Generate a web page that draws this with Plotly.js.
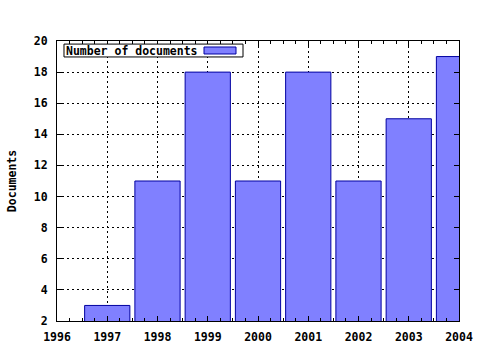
<!DOCTYPE html>
<html>
<head>
<meta charset="utf-8">
<script src="https://cdn.plot.ly/plotly-3.0.1.min.js"></script>
<style>html,body{margin:0;padding:0;background:#fff;}#chart{width:480px;height:350px;}</style>
</head>
<body>
<div id="chart"></div>
<script>
const years = [1997, 1998, 1999, 2000, 2001, 2002, 2003, 2004];
const documents = [3, 11, 18, 11, 18, 11, 15, 19];
const seriesName = "Number of documents";
const yTitle = "Documents";

const font = {family: "DejaVu Sans Mono, monospace", size: 11.5, color: "#000", weight: "bold"};

const trace = {
  type: "bar",
  x: years,
  y: documents,
  name: seriesName,
  width: 0.9,
  marker: {color: "#8080ff", line: {color: "#0000a0", width: 1}},
  showlegend: false
};

const axisCommon = {
  showline: true, linecolor: "#000", linewidth: 1, mirror: "ticks",
  ticks: "inside", ticklen: 5, tickcolor: "#000", tickwidth: 1,
  showgrid: true, gridcolor: "#000", griddash: "2px,3px", gridwidth: 1,
  zeroline: false, tickfont: font, fixedrange: true
};

const layout = {
  width: 480, height: 350,
  margin: {l: 57, r: 21, t: 41, b: 29, pad: 0},
  paper_bgcolor: "#fff", plot_bgcolor: "#fff",
  font: font,
  bargap: 0.1,
  xaxis: Object.assign({}, axisCommon, {
    range: [1996, 2004], tick0: 1996, dtick: 1, tickformat: "d",
    ticklabelstandoff: 5,
    minor: {dtick: 0.25, tick0: 1996, ticks: "inside", ticklen: 3, tickcolor: "#000", showgrid: false}
  }),
  yaxis: Object.assign({}, axisCommon, {
    range: [2, 20], tick0: 2, dtick: 2,
    ticklabelstandoff: 6,
    title: {text: yTitle, font: font, standoff: 14}
  }),
  shapes: [
    {type: "rect", xref: "paper", yref: "paper", x0: 0.0174, x1: 0.4627, y0: 0.943, y1: 0.989,
     line: {color: "#000", width: 1}, fillcolor: "#fff", layer: "above"},
    {type: "rect", xref: "paper", yref: "paper", x0: 0.3657, x1: 0.4453, y0: 0.9536, y1: 0.9786,
     line: {color: "#0000a0", width: 1}, fillcolor: "#8080ff", layer: "above"}
  ],
  annotations: [
    {text: seriesName, xref: "paper", yref: "paper", x: 0.017, y: 0.966,
     xanchor: "left", yanchor: "middle", showarrow: false, font: font}
  ]
};

Plotly.newPlot("chart", [trace], layout, {displayModeBar: false, staticPlot: true});
</script>
</body>
</html>
